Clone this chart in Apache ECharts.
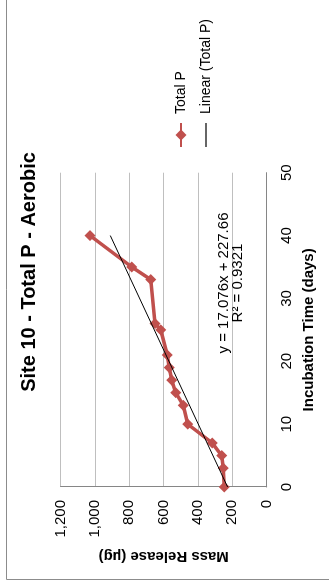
<!DOCTYPE html>
<html>
<head>
<meta charset="utf-8">
<script src="https://cdn.jsdelivr.net/npm/echarts@6/dist/echarts.min.js"></script>
<style>
html,body{margin:0;padding:0;background:#fff;overflow:hidden;}
#outer{position:relative;width:329px;height:588px;overflow:hidden;background:#fff;}
#chart{position:absolute;left:0;top:0;width:588px;height:329px;transform-origin:0 0;transform:translateY(588px) rotate(-90deg);}
</style>
</head>
<body>
<div id="outer"><div id="chart"></div></div>
<script>
// Data
const days = [0, 3, 5, 7, 10, 13, 15, 17, 19, 21, 25, 26, 33, 35, 40];
const massRelease = [247, 253, 262, 317, 460, 486, 530, 553, 567, 579, 617, 650, 675, 786, 1029];
const trendDays = [0, 40];
const trendMass = [227.66, 910.70];
const xTicks = ['0', '10', '20', '30', '40', '50'];
const yTicks = ['0', '200', '400', '600', '800', '1,000', '1,200'];
const titleText = 'Site 10 - Total P - Aerobic';
const seriesNames = ['Total P', 'Linear (Total P)'];
const equationLines = ['y = 17.076x + 227.66', 'R² = 0.9321'];

const FONT = '"Liberation Sans", Arial, sans-serif';
const chart = echarts.init(document.getElementById('chart'), null, {renderer: 'canvas'});

const option = {
  backgroundColor: '#fff',
  animation: false,
  title: {
    text: titleText,
    left: 316,
    top: 19,
    padding: 0,
    textAlign: 'center',
    textStyle: {fontFamily: FONT, fontSize: 20, fontWeight: 'bold', color: '#000'}
  },
  legend: {
    orient: 'vertical',
    left: 440,
    top: 174,
    itemGap: 11,
    itemWidth: 24,
    itemHeight: 14,
    padding: 0,
    symbolKeepAspect: true,
    data: [
      {name: seriesNames[0]},
      {name: seriesNames[1], icon: 'path://M0 0H24V1.2H0Z'}
    ],
    textStyle: {fontFamily: FONT, fontSize: 14, color: '#000', padding: [0, 0, 0, 4]}
  },
  grid: {left: 101, right: 172.7, top: 60.6, bottom: 62.3, containLabel: false},
  xAxis: {
    type: 'value', min: 0, max: 50, interval: 10,
    axisLine: {show: true, lineStyle: {color: '#868686', width: 1}},
    axisTick: {show: false},
    splitLine: {show: false},
    axisLabel: {
      fontFamily: FONT, fontSize: 15, color: '#000', margin: 13,
      formatter: v => xTicks[Math.round(v / 10)]
    },
    name: 'Incubation Time (days)', nameLocation: 'middle', nameGap: 35,
    nameTextStyle: {fontFamily: FONT, fontSize: 15, fontWeight: 'bold', color: '#000'}
  },
  yAxis: {
    type: 'value', min: 0, max: 1200, interval: 200,
    axisLine: {show: true, lineStyle: {color: '#868686', width: 1}},
    axisTick: {show: false},
    splitLine: {show: true, lineStyle: {color: '#bfbfbf', width: 1}},
    axisLabel: {
      fontFamily: FONT, fontSize: 15, color: '#000', margin: 13,
      formatter: v => yTicks[Math.round(v / 200)]
    },
    name: 'Mass Release (µg)', nameLocation: 'middle', nameGap: 58,
    nameTextStyle: {fontFamily: FONT, fontSize: 15, fontWeight: 'bold', color: '#000'}
  },
  graphic: [
    {type: 'rect', silent: true, z: -10,
     shape: {x: 8.5, y: 6.5, width: 700, height: 400},
     style: {fill: 'none', stroke: '#8c8c8c', lineWidth: 1}},
    {type: 'text', silent: true, z: 100,
     x: 305, y: 224, style: {text: equationLines[0], fontFamily: FONT, fontSize: 15, fill: '#000', textAlign: 'center', textVerticalAlign: 'middle'}},
    {type: 'text', silent: true, z: 100,
     x: 305, y: 238, style: {text: equationLines[1], fontFamily: FONT, fontSize: 15, fill: '#000', textAlign: 'center', textVerticalAlign: 'middle'}}
  ],
  series: [
    {
      name: seriesNames[0], type: 'line',
      data: days.map((d, i) => [d, massRelease[i]]),
      symbol: 'diamond', symbolSize: 11,
      itemStyle: {color: '#C0504D'},
      lineStyle: {color: '#C0504D', width: 3.5},
      z: 2
    },
    {
      name: seriesNames[1], type: 'line',
      data: trendDays.map((d, i) => [d, trendMass[i]]),
      symbol: 'none',
      itemStyle: {color: '#000'},
      lineStyle: {color: '#000', width: 1},
      z: 3
    }
  ]
};
chart.setOption(option);
</script>
</body>
</html>
